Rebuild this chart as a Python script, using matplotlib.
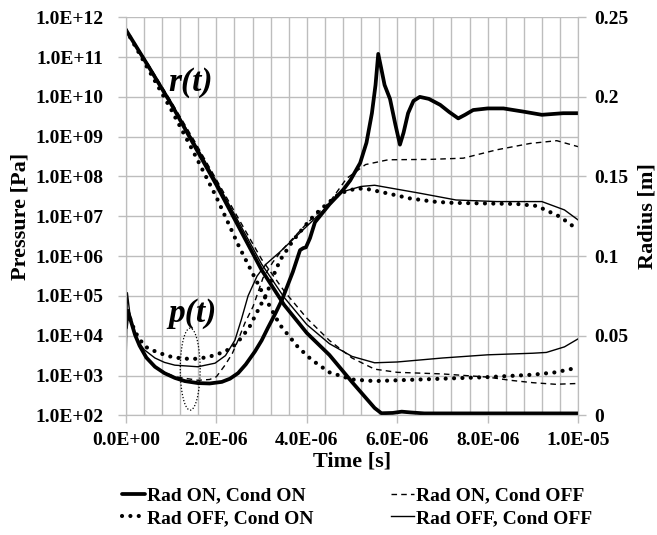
import numpy as np
import matplotlib
matplotlib.use("Agg")
import matplotlib.pyplot as plt
from matplotlib.ticker import FixedLocator, FuncFormatter, MultipleLocator

plt.rcParams['font.family'] = ['Liberation Serif', 'DejaVu Serif']

# time in microseconds, pressure as log10(Pa), radius in m
# --- pressure ---
tp_on_on = [0.0, 0.04, 0.1, 0.2, 0.3, 0.45, 0.64, 0.85, 1.08, 1.3, 1.59, 1.85, 2.12, 2.3,
            2.48, 2.65, 2.85, 3.0, 3.14, 3.3, 3.45, 3.69, 3.85,
            3.92, 3.98, 4.07, 4.18, 4.5, 4.8, 4.96, 5.18, 5.32, 5.44, 5.52, 5.58, 5.64,
            5.72, 5.84, 5.96, 6.06, 6.14, 6.24, 6.36, 6.5, 6.7, 6.95, 7.15, 7.35, 7.5,
            7.68, 8.0, 8.35, 8.79, 9.2, 9.67, 10.0]
lp_on_on = [4.2, 4.62, 4.4, 4.02, 3.75, 3.45, 3.22, 3.06, 2.94, 2.86, 2.81, 2.8, 2.84, 2.92,
            3.06, 3.28, 3.6, 3.88, 4.2, 4.55, 4.9, 5.6, 6.15,
            6.2, 6.22, 6.45, 6.85, 7.3, 7.66, 7.9, 8.34, 8.85, 9.59, 10.3, 11.08, 10.75,
            10.3, 9.95, 9.3, 8.8, 9.1, 9.59, 9.9, 10.0, 9.95, 9.8, 9.62, 9.46, 9.55,
            9.67, 9.71, 9.71, 9.63, 9.55, 9.59, 9.59]

tp_on_off = [0.04, 0.1, 0.2, 0.3, 0.45, 0.64, 0.85, 1.08, 1.59, 1.85, 2.0, 2.19, 2.35, 2.48,
             2.63, 2.81, 3.03, 3.25, 3.45, 4.0, 4.5, 4.88, 5.3, 5.8, 6.73, 7.46, 8.2, 8.94,
             9.53, 10.0]
lp_on_off = [4.62, 4.4, 4.02, 3.75, 3.45, 3.22, 3.08, 2.97, 2.88, 2.9, 2.97, 3.26, 3.55, 3.89,
             4.32, 4.73, 5.45, 5.85, 6.15, 6.82, 7.35, 7.95, 8.3, 8.42, 8.43, 8.46, 8.67, 8.83,
             8.9, 8.75]

tp_off_on = [0.04, 0.1, 0.2, 0.31, 0.42, 0.55, 0.71, 0.9, 1.08, 1.46, 1.81, 2.19, 2.41, 2.57,
             2.74, 2.96, 3.12, 3.25, 3.41, 3.7, 4.07, 4.29, 4.73, 5.1, 5.32, 5.77, 6.28,
             6.79, 7.17, 7.61, 8.65, 9.09, 9.6, 10.0]
lp_off_on = [4.62, 4.4, 4.1, 3.9, 3.73, 3.65, 3.58, 3.5, 3.45, 3.41, 3.46, 3.6, 3.77, 3.97,
             4.24, 4.73, 5.07, 5.48, 5.9, 6.4, 6.91, 7.16, 7.58, 7.7, 7.69, 7.58, 7.45,
             7.37, 7.34, 7.33, 7.31, 7.26, 6.99, 6.66]

tp_off_off = [0.0, 0.03, 0.08, 0.15, 0.25, 0.4, 0.64, 0.85, 1.08, 1.59, 1.97, 2.2, 2.41, 2.55,
              2.7, 2.9, 3.1, 3.4, 4.0, 4.8, 5.2, 5.5, 6.0, 6.5, 7.3, 8.2, 9.2, 9.7, 10.0]
lp_off_off = [3.18, 5.08, 4.6, 4.2, 3.9, 3.65, 3.44, 3.33, 3.26, 3.22, 3.31, 3.5, 3.89, 4.4,
              5.0, 5.5, 5.8, 6.1, 6.75, 7.62, 7.75, 7.78, 7.68, 7.58, 7.41, 7.37, 7.37, 7.16,
              6.91]

# --- radius ---
tr_on_on = [0, 0.5, 1, 1.5, 2, 2.5, 3, 3.5, 4, 4.5, 5, 5.5, 5.65, 5.9, 6.1, 6.3, 6.6, 7, 8, 9, 10]
r_on_on = [0.242, 0.219, 0.1955, 0.170, 0.1447, 0.118, 0.0913, 0.0693, 0.0517, 0.0379, 0.0209,
           0.0046, 0.0013, 0.0015, 0.0023, 0.0018, 0.0012, 0.0012, 0.0012, 0.0012, 0.0012]

tr_on_off = [0, 0.5, 1, 1.5, 2, 2.5, 3, 3.5, 4, 4.5, 5, 5.5, 6, 7, 8, 8.5, 9, 9.5, 10]
r_on_off = [0.242, 0.220, 0.197, 0.173, 0.148, 0.123, 0.098, 0.078, 0.061, 0.047, 0.036,
            0.029, 0.027, 0.026, 0.024, 0.022, 0.0205, 0.0195, 0.020]

tr_off_on = [0, 0.5, 1, 1.5, 2, 2.5, 3, 3.4, 3.8, 4.1, 4.5, 5, 5.5, 6, 7, 8, 9, 9.5, 10]
r_off_on = [0.242, 0.217, 0.192, 0.165, 0.137, 0.106, 0.078, 0.057, 0.043, 0.035, 0.027,
            0.0225, 0.0215, 0.022, 0.023, 0.024, 0.0255, 0.027, 0.030]

tr_off_off = [0, 0.5, 1, 1.5, 2, 2.5, 3, 3.5, 4, 4.5, 5, 5.5, 6, 7, 8, 9, 9.3, 9.7, 10]
r_off_off = [0.242, 0.220, 0.196, 0.172, 0.147, 0.121, 0.095, 0.074, 0.057, 0.045, 0.037,
             0.033, 0.0335, 0.036, 0.038, 0.039, 0.0395, 0.043, 0.048]

labels = ["Rad ON, Cond ON", "Rad ON, Cond OFF", "Rad OFF, Cond ON", "Rad OFF, Cond OFF"]

us = 1e-6
sty_on_on = dict(color="black", lw=2.7, solid_capstyle="round", solid_joinstyle="round")
sty_on_off = dict(color="black", lw=1.0, ls=(0, (4, 3)))
sty_off_on = dict(color="black", lw=3.0, ls=(0, (0.01, 2.0)), dash_capstyle="round")
sty_off_off = dict(color="black", lw=1.0)

fig = plt.figure(figsize=(6.57, 5.35), dpi=100)
ax = fig.add_axes([0.1918, 0.2237, 0.688, 0.744])
ax2 = ax.twinx()

ax.set_yscale("log")
ax.set_xlim(0, 1e-5)
ax.set_ylim(1e2, 1e12)
ax2.set_ylim(0, 0.25)

l1, = ax.plot(np.array(tp_on_on) * us, 10 ** np.array(lp_on_on), **sty_on_on)
l2, = ax.plot(np.array(tp_on_off) * us, 10 ** np.array(lp_on_off), **sty_on_off)
l3, = ax.plot(np.array(tp_off_on) * us, 10 ** np.array(lp_off_on), **sty_off_on)
l4, = ax.plot(np.array(tp_off_off) * us, 10 ** np.array(lp_off_off), **sty_off_off)

ax2.plot(np.array(tr_on_on) * us, r_on_on, **sty_on_on)
ax2.plot(np.array(tr_on_off) * us, r_on_off, **sty_on_off)
ax2.plot(np.array(tr_off_on) * us, r_off_on, **sty_off_on)
ax2.plot(np.array(tr_off_off) * us, r_off_off, **sty_off_off)

# dotted ellipse around the p(t) minimum
th = np.linspace(0, 2 * np.pi, 200)
ax.plot((1.42 + 0.22 * np.cos(th)) * us, 10 ** (3.16 + 1.03 * np.sin(th)),
        color="black", lw=0.9, ls=(0, (1, 1.5)))

ax.text(1.42e-6, 10 ** 10.35, "r(t)", fontsize=24, fontweight="bold",
        fontstyle="italic", ha="center", va="center")
ax.text(1.48e-6, 10 ** 4.55, "p(t)", fontsize=24, fontweight="bold",
        fontstyle="italic", ha="center", va="center")

# grid and ticks
grid_c = "#bdbdbd"
ax.xaxis.set_major_locator(MultipleLocator(2e-6))
ax.xaxis.set_minor_locator(MultipleLocator(0.4e-6))
ax.yaxis.set_major_locator(FixedLocator([10.0 ** k for k in range(2, 13)]))
ax.yaxis.set_minor_locator(FixedLocator([]))
ax2.yaxis.set_major_locator(MultipleLocator(0.05))
ax.grid(True, which="both", axis="x", color=grid_c, lw=1.0)
ax.grid(True, which="major", axis="y", color=grid_c, lw=1.0)
ax.set_axisbelow(True)

ax.xaxis.set_major_formatter(FuncFormatter(lambda v, p: f"{v:.1E}"))
ax.yaxis.set_major_formatter(FuncFormatter(lambda v, p: f"{v:.1E}"))
ax2.yaxis.set_major_formatter(FuncFormatter(lambda v, p: f"{v:g}"))

for a in (ax, ax2):
    for s in a.spines.values():
        s.set_color(grid_c)
    a.spines["top"].set_visible(False)
    a.tick_params(which="major", length=6, color=grid_c, width=1.0, labelsize=14)
    for lab in a.get_xticklabels() + a.get_yticklabels():
        lab.set_fontweight("bold")
ax.tick_params(axis="y", pad=10)
ax.tick_params(axis="x", pad=6)
ax2.tick_params(axis="y", pad=6)
ax.tick_params(which="minor", length=0)

ax.set_xlabel("Time [s]", fontsize=16, fontweight="bold", labelpad=2)
ax.set_ylabel("Pressure [Pa]", fontsize=16, fontweight="bold", labelpad=4)
ax2.set_ylabel("Radius [m]", fontsize=16, fontweight="bold", labelpad=6)

ax.legend([l1, l3, l2, l4], [labels[0], labels[2], labels[1], labels[3]],
          ncol=2, loc="upper center", bbox_to_anchor=(0.511, -0.16), frameon=False,
          prop={"size": 14, "weight": "bold"}, handlelength=1.2, handletextpad=0.1,
          columnspacing=4.0, labelspacing=0.25, borderaxespad=0)

fig.savefig("out.png", dpi=100)
